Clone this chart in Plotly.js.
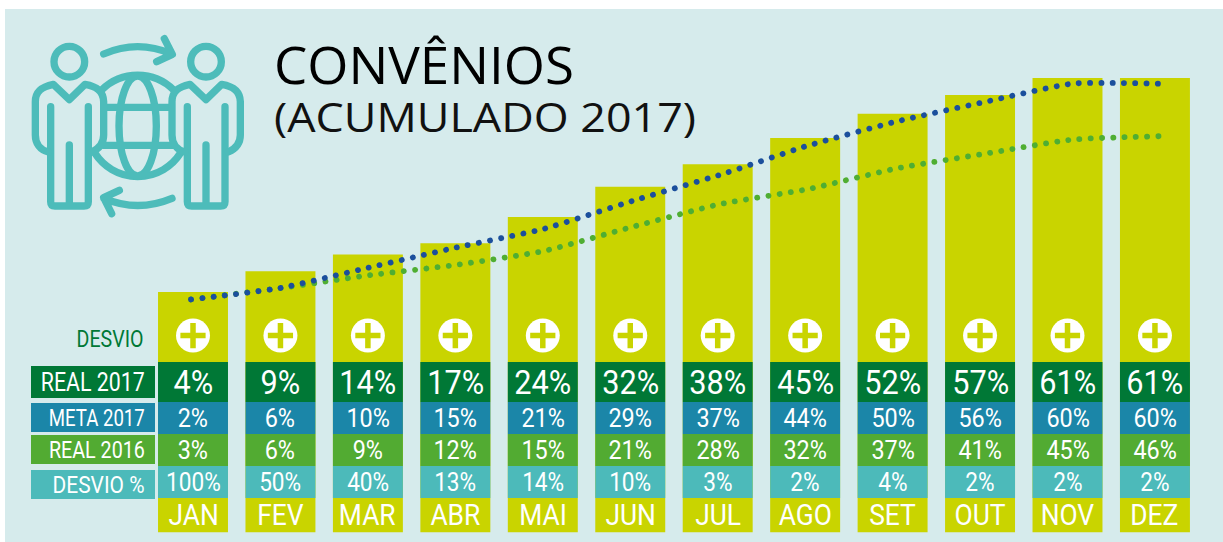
<!DOCTYPE html>
<html><head><meta charset="utf-8">
<script src="https://cdn.plot.ly/plotly-3.0.1.min.js"></script>
<style>html,body{margin:0;padding:0;background:#fff}#c{width:1223px;height:542px}
.scatterlayer .js-line{stroke-linecap:round}</style></head>
<body><div id="c"></div>
<script>
const months=['JAN','FEV','MAR','ABR','MAI','JUN','JUL','AGO','SET','OUT','NOV','DEZ'];
const barValues=[4,9.5,14,17,24,32,38,45,51.5,56.5,61,61];
const meta2017Line=[2,5,10.4,15.8,20.8,28.2,35.2,43,49.4,54.6,59.5,59.5];
const real2016Line=[2,5,8.4,11.2,14.9,21.3,27.4,31.4,36.9,40.8,44.6,45.5];
const real2017Labels=['4%','9%','14%','17%','24%','32%','38%','45%','52%','57%','61%','61%'];
const meta2017Labels=['2%','6%','10%','15%','21%','29%','37%','44%','50%','56%','60%','60%'];
const real2016Labels=['3%','6%','9%','12%','15%','21%','28%','32%','37%','41%','45%','46%'];
const desvioLabels=['100%','50%','40%','13%','14%','10%','3%','2%','4%','2%','2%','2%'];
const rowNames=['REAL 2017','META 2017','REAL 2016','DESVIO %'];

const W=1223,H=542,NARROW="'Roboto',sans-serif";
const py=p=>1-p/H, px=p=>p/W;
const C={panel:'#d6ebec',bar:'#c9d400',r17:'#007836',m17:'#1b86a8',r16:'#52ab32',dv:'#4cbaba',blue:'#1b4f9c',green:'#4fae32',teal:'#4dbcba'};

const rows=[
 {labels:real2017Labels,top:362,bot:402,color:C.r17,size:33,lt:366,lb:398,lsize:25,w:104,f:0.93},
 {labels:meta2017Labels,top:402,bot:434,color:C.m17,size:26,lt:403,lb:432,lsize:24,w:96,f:0.9},
 {labels:real2016Labels,top:434,bot:466,color:C.r16,size:26,lt:435,lb:464,lsize:24,w:96,f:0.9},
 {labels:desvioLabels,top:466,bot:498,color:C.dv,size:26,lt:470,lb:499,lsize:24,w:92,f:0.87}
];
const shapes=[{type:'rect',xref:'paper',yref:'paper',x0:px(5),x1:1,y0:0,y1:py(9),fillcolor:C.panel,line:{width:0},layer:'below'}];
const ann=[];
const fit=[];
function addAnn(a,fitSpec){ann.push(Object.assign({showarrow:false},a));fit.push(fitSpec);}
rows.forEach((r,k)=>{
  shapes.push({type:'rect',xref:'paper',yref:'paper',x0:px(31),x1:px(155),y0:py(r.lb),y1:py(r.lt),fillcolor:r.color,line:{width:0}});
  addAnn({xref:'paper',yref:'paper',x:px(147),y:py((r.lt+r.lb)/2+0.5),xanchor:'right',yanchor:'middle',align:'right',text:rowNames[k],font:{family:NARROW,size:r.lsize,color:'#fff'}},{w:r.w});
  r.labels.forEach((t,i)=>{
    shapes.push({type:'rect',xref:'x',yref:'paper',x0:i-0.4,x1:i+0.4,y0:py(r.bot),y1:py(r.top),fillcolor:r.color,line:{width:0}});
    addAnn({xref:'x',yref:'paper',x:i,y:py((r.top+r.bot)/2),xanchor:'center',yanchor:'middle',text:t,font:{family:NARROW,size:r.size,color:'#fff'}},{f:r.f});
  });
});
months.forEach((m,i)=>addAnn({xref:'x',yref:'paper',x:i,y:py(514.5),xanchor:'center',yanchor:'middle',text:m,font:{family:NARROW,size:30,color:'#fff'}},{f:0.88}));
addAnn({xref:'paper',yref:'paper',x:px(146),y:py(339.5),xanchor:'right',yanchor:'middle',align:'right',text:'DESVIO',font:{family:NARROW,size:23,color:C.r17}},{w:67});
addAnn({xref:'paper',yref:'paper',x:px(272),y:py(64),xanchor:'left',yanchor:'middle',align:'left',text:'CONVÊNIOS',font:{family:"'Open Sans',sans-serif",size:51,color:'#000'}},{w:300});
addAnn({xref:'paper',yref:'paper',x:px(272),y:py(115.5),xanchor:'left',yanchor:'middle',align:'left',text:'(ACUMULADO 2017)',font:{family:"'Open Sans',sans-serif",size:41,color:'#111'}},{w:422});

const body='<path d="M152 320V605Q152 618 165 618H252Q265 618 265 605V320M208 435V618"/><path d="M145 456C120 450 106 430 106 405V305C106 275 125 260 160 253L208 299L255 253C285 258 310 270 311 305V405C311 430 300 445 275 456"/>';
const icon=`<svg xmlns="http://www.w3.org/2000/svg" width="1260" height="810" viewBox="0 0 1260 810"><g fill="none" stroke="${C.teal}" stroke-width="22" stroke-linecap="round" stroke-linejoin="round">
<circle cx="208" cy="185" r="46"/><circle cx="618" cy="185" r="46"/>
<path d="M305 270A153 153 0 0 1 521 270"/><path d="M285 460A152 152 0 0 0 541 460"/>
<ellipse cx="413" cy="378" rx="56" ry="150"/>
<path d="M320 322H510M310 436H520"/>
<g>${body}</g><g transform="translate(410 0)">${body}</g>
<path d="M311 162Q413 118 515 162M493 116L517 163L470 185"/>
<path d="M516 595Q413 638 312 595M358 571L311 593L335 641"/>
</g></svg>`;

const dotLine=c=>({color:c,width:5.8,shape:'spline',smoothing:0.5,dash:'0.1px,11.2px'});
const traces=[
 {type:'bar',x:months,y:months.map(()=>-60),width:0.8,marker:{color:C.bar},hoverinfo:'skip',showlegend:false},
 {type:'bar',name:'REAL 2017',x:months,y:barValues,width:0.8,marker:{color:C.bar},showlegend:false},
 {type:'scatter',mode:'lines',name:'REAL 2016',x:months,y:real2016Line,xaxis:'x2',line:dotLine(C.green),showlegend:false},
 {type:'scatter',mode:'lines',name:'META 2017',x:months,y:meta2017Line,xaxis:'x2',line:dotLine(C.blue),showlegend:false},
 {type:'scatter',mode:'markers',x:months,y:months.map(()=>-7.6),marker:{symbol:'circle',size:34,color:'#fff'},hoverinfo:'skip',showlegend:false},
 {type:'scatter',mode:'markers',x:months,y:months.map(()=>-7.6),marker:{symbol:'cross-thin',size:18,line:{color:C.bar,width:5.5}},hoverinfo:'skip',showlegend:false}
];
const xr=(c0,step)=>[(0-c0)/step,(W-c0)/step];
const layout={width:W,height:H,margin:{l:0,r:0,t:0,b:0,pad:0},paper_bgcolor:'#fff',plot_bgcolor:'rgba(0,0,0,0)',
 barmode:'overlay',showlegend:false,
 xaxis:{type:'category',categoryorder:'array',categoryarray:months,range:xr(193,87.45),visible:false,fixedrange:true},
 xaxis2:{type:'category',categoryorder:'array',categoryarray:months,range:xr(191,88.15),overlaying:'x',visible:false,fixedrange:true},
 yaxis:{range:[-62.6,81.78],visible:false,fixedrange:true},
 shapes:shapes,annotations:ann,
 images:[{source:'data:image/svg+xml;charset=utf-8,'+encodeURIComponent(icon),xref:'paper',yref:'paper',x:0,y:1,sizex:420/W,sizey:270/H,xanchor:'left',yanchor:'top',sizing:'stretch',layer:'above'}]
};
Plotly.newPlot('c',traces,layout,{displayModeBar:false,staticPlot:true}).then(gd=>{
  const texts=[...gd.querySelectorAll('.annotation-text')];
  texts.forEach((el,i)=>{
    const s=fit[i]; if(!s) return;
    const w=s.w||el.getComputedTextLength()*s.f;
    el.setAttribute('textLength',w);
    el.setAttribute('lengthAdjust','spacingAndGlyphs');
  });
});
</script></body></html>
